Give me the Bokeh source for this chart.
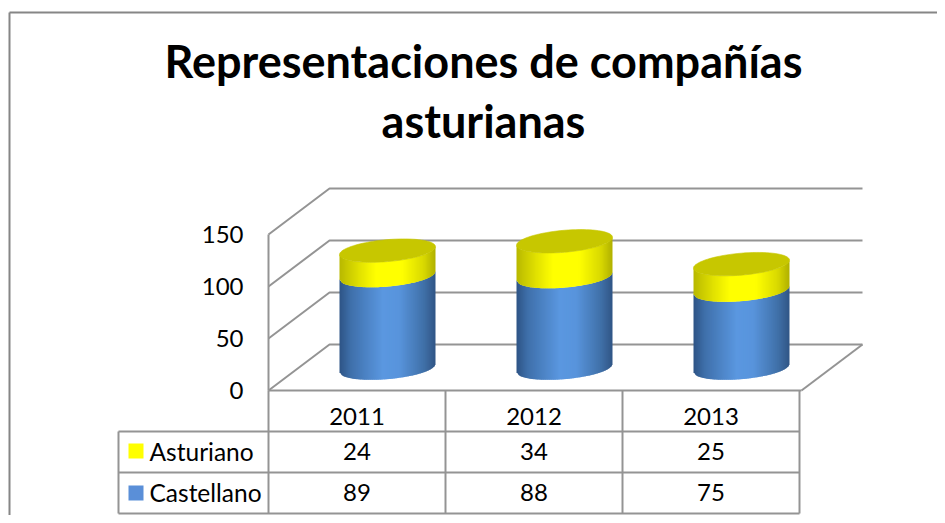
from bokeh.plotting import figure
from bokeh.models import Range1d, LinearAxis, FixedTicker
from bokeh.core.properties import value
from bokeh.embed import file_html
from bokeh.resources import INLINE
import math

title_lines = ["Representaciones de compañías", "asturianas"]
categories = ["2011", "2012", "2013"]
asturiano = [24, 34, 25]
castellano = [89, 88, 75]
y_ticks = [0, 50, 100, 150]

W, H = 937, 515
PX = 1.04
Y0 = 390
FONT = "Lato"
GRAY = "#949494"

def V(py):
    return (Y0 - py) / PX

p = figure(width=W, height=H, output_backend="svg", toolbar_location=None,
           x_axis_type=None, y_axis_type=None, min_border=0,
           x_range=Range1d(0, W), y_range=Range1d(V(H), V(0)))
p.outline_line_color = None
p.grid.visible = False
p.background_fill_color = "white"

X0, X1, DX = 268, 801, 61
DV = 46 / PX
VMAX = y_ticks[-1]

def line(xs, ys, color=GRAY, w=2):
    p.line(xs, ys, line_color=color, line_width=w)

# outer frame
line([9, 9], [V(H), V(12)], "#868686", 2)
line([9, W], [V(12), V(12)], "#868686", 2)

# walls and floor
for t in y_ticks:
    line([X0, X0 + DX, X1 + DX], [t, t + DV, t + DV])
line([X0, X0], [0, VMAX])
line([X1 + DX, X1], [DV, 0])
line([X0, X1], [0, 0])

# table
R = [V(431), V(472), V(513)]
COL = [X0 + i * (X1 - 2 - X0) / 3 for i in range(4)]
for r in R:
    line([118, COL[-1]], [r, r])
line([118, 118], [R[0], R[2]])
for c in COL:
    line([c, c], [0, R[2]])

# cylinders
A, B, SHEAR = 48, 11, 4
OFF = 21.5
N = 48

def lerp(c1, c2, t):
    return "#%02x%02x%02x" % tuple(round(a + (b - a) * t) for a, b in zip(c1, c2))

def ramp(stops, t):
    for (t0, c0), (t1, c1) in zip(stops, stops[1:]):
        if t <= t1:
            return lerp(c0, c1, (t - t0) / (t1 - t0))
    return lerp(stops[-1][1], stops[-1][1], 0)

BLUE = [(0, (0x2e, 0x53, 0x85)), (0.12, (0x3f, 0x70, 0xab)), (0.45, (0x5a, 0x97, 0xe0)),
        (0.62, (0x58, 0x94, 0xdc)), (0.88, (0x40, 0x70, 0xa8)), (1, (0x30, 0x55, 0x85))]
YEL = [(0, (0xb8, 0xb8, 0x00)), (0.2, (0xe0, 0xe0, 0x00)), (0.38, (0xff, 0xff, 0x00)),
       (0.65, (0xff, 0xff, 0x00)), (0.88, (0xd8, 0xd8, 0x00)), (1, (0xb0, 0xb0, 0x00))]

def front(cx, v, x):
    u = max(-1, min(1, (x - cx) / A))
    return v + OFF + (SHEAR * u - B * math.sqrt(1 - u * u)) / PX

def side(cx, lo, hi, stops):
    xs, ys, cs = [], [], []
    for i in range(N):
        a = cx - A + 2 * A * i / N
        b = min(cx + A, a + 2 * A / N + 1.2)
        xs.append([a, b, b, a])
        ys.append([front(cx, lo, a), front(cx, lo, b), front(cx, hi, b), front(cx, hi, a)])
        cs.append(ramp(stops, (i + .5) / N))
    p.patches(xs, ys, fill_color=cs, line_color=None)

cw = COL[1] - COL[0]
for i, (cat, a, c) in enumerate(zip(categories, asturiano, castellano)):
    cx = COL[i] + cw / 2 + DX / 2
    side(cx, 0, c, BLUE)
    side(cx, c, c + a, YEL)
    ts = [2 * math.pi * k / 80 for k in range(80)]
    p.patch([cx + A * math.cos(t) for t in ts],
            [c + a + OFF + (SHEAR * math.cos(t) + B * math.sin(t)) / PX for t in ts],
            fill_color="#c7c700", line_color="#c7c700", line_width=0.6)

def text(x, y, s, align="center", size="24px", style="normal", color="#000000"):
    p.text([x], [y], text=[s], text_align=align, text_baseline="middle",
           text_font=value(FONT), text_font_size=size, text_font_style=style, text_color=color)

# table texts
for i, (cat, a, c) in enumerate(zip(categories, asturiano, castellano)):
    cx = COL[i] + cw / 2
    text(cx, V(416), cat)
    text(cx, V(451), str(a))
    text(cx, V(492), str(c))

p.quad(left=[128, 128], right=[143, 143], top=[V(443), V(485)], bottom=[V(458), V(500)],
       fill_color=["#ffff00", "#5a8fd8"], line_color=None)
text(149, V(451), "Asturiano", "left", "24.5px")
text(149, V(492), "Castellano", "left", "24.5px")

# title
text(483, V(60), title_lines[0], size="45px", style="bold")
text(483, V(120), title_lines[1], size="45px", style="bold")

# value axis
ax = LinearAxis(fixed_location=X0, ticker=FixedTicker(ticks=y_ticks))
ax.axis_line_color = None
ax.major_tick_line_color = None
ax.minor_tick_line_color = None
ax.major_label_standoff = 19
ax.major_label_text_font = FONT
ax.major_label_text_font_size = "24px"
ax.major_label_text_color = "#000000"
p.add_layout(ax, "left")

open("out.html", "w").write(file_html(p, INLINE))
